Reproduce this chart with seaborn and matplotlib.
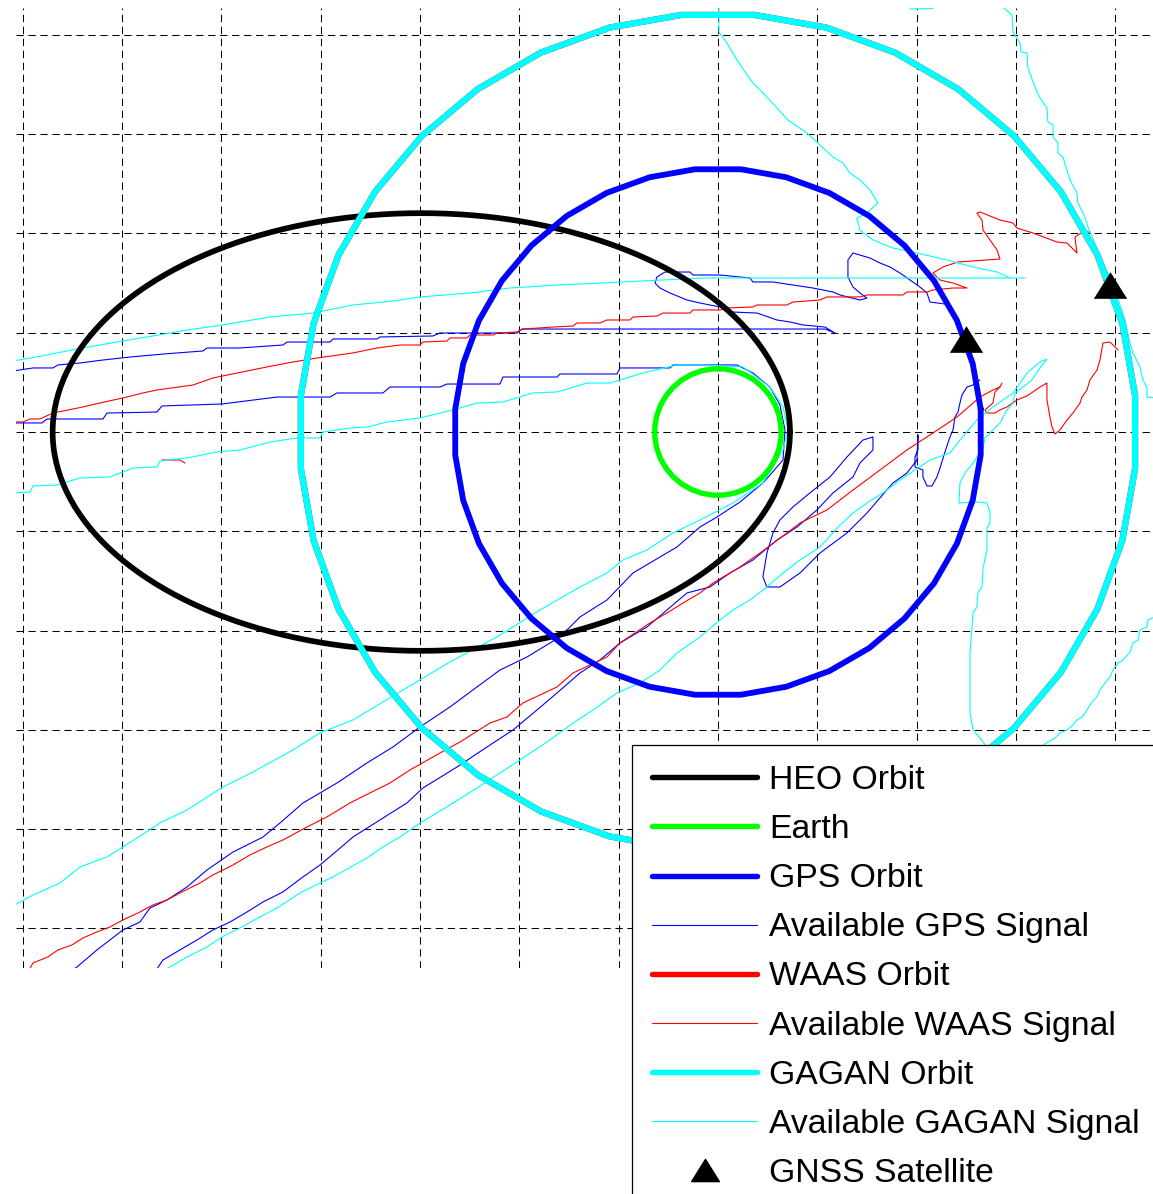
import numpy as np
import matplotlib
matplotlib.use("Agg")
import matplotlib.pyplot as plt
from matplotlib.lines import Line2D
import seaborn as sns

# All distances in units of 10^4 km, Earth-centred inertial frame
earth_radius = 0.6378
gps_radius = 2.6560
geo_radius = 4.2164          # WAAS and GAGAN satellites share the geostationary ring
heo_perigee = 0.725
heo_apogee = 6.70

gnss_sat_x = [2.497, 3.948]
gnss_sat_y = [0.937, 1.485]

# Arcs along which each GNSS signal is receivable by the HEO receiver
gps_signal_a = [
    (-7.100, 0.614), (-6.898, 0.645), (-6.697, 0.645), (-6.647, 0.675), (-6.425, 0.695),
    (-6.193, 0.725), (-5.921, 0.755), (-5.589, 0.785), (-5.186, 0.816), (-5.146, 0.846),
    (-4.814, 0.846), (-4.381, 0.876), (-4.340, 0.906), (-3.907, 0.906), (-3.877, 0.937),
    (-3.434, 0.937), (-3.404, 0.957), (-2.870, 0.967), (-2.800, 0.997), (-2.024, 0.997),
    (-1.974, 1.037), (1.078, 1.037), (1.178, 0.997), (1.078, 1.057), (0.856, 1.078),
    (0.725, 1.108), (0.594, 1.128), (0.393, 1.198), (0.151, 1.208), (0.020, 1.259),
    (-0.181, 1.299), (-0.312, 1.329), (-0.483, 1.400), (-0.584, 1.450), (-0.634, 1.500),
    (-0.614, 1.561), (-0.534, 1.611), (-0.282, 1.611), (-0.252, 1.581), (0.020, 1.581),
    (0.322, 1.551), (0.352, 1.511), (0.554, 1.511), (0.755, 1.480), (0.957, 1.450),
    (1.158, 1.410), (1.229, 1.380), (1.430, 1.329), (1.500, 1.349), (1.430, 1.400),
    (1.360, 1.460), (1.309, 1.561), (1.309, 1.732), (1.360, 1.803), (1.430, 1.782),
    (1.531, 1.752), (1.631, 1.702), (1.732, 1.662), (1.833, 1.601), (1.934, 1.531),
    (2.034, 1.460), (2.105, 1.400), (2.135, 1.309), (2.286, 1.289),
]
gps_signal_b = [
    (-7.100, 0.091), (-6.808, 0.091), (-6.757, 0.131), (-6.193, 0.131), (-6.153, 0.191),
    (-5.650, 0.201), (-5.599, 0.262), (-4.995, 0.282), (-4.441, 0.352), (-3.907, 0.352),
    (-3.837, 0.393), (-3.374, 0.393), (-3.303, 0.453), (-2.800, 0.453), (-2.729, 0.483),
    (-2.195, 0.483), (-2.165, 0.554), (-1.621, 0.554), (-1.591, 0.584), (-1.017, 0.584),
    (-0.987, 0.645), (-0.483, 0.645), (-0.453, 0.675), (0.191, 0.675), (0.352, 0.594),
    (0.524, 0.453), (0.624, 0.272), (0.675, 0.020), (0.655, -0.282), (0.453, -0.514),
    (0.222, -0.705), (-0.010, -0.856), (-0.181, -0.957), (-0.413, -1.158), (-0.584, -1.259),
    (-0.856, -1.420), (-1.118, -1.692), (-1.390, -1.863), (-1.591, -2.064), (-1.923, -2.266),
    (-2.195, -2.397), (-2.427, -2.568), (-2.699, -2.769), (-3.001, -2.971), (-3.273, -3.172),
    (-3.535, -3.333), (-3.837, -3.535), (-4.179, -3.736), (-4.411, -3.938), (-4.582, -4.079),
    (-4.884, -4.230), (-5.146, -4.411), (-5.347, -4.582), (-5.549, -4.713), (-5.720, -4.794),
    (-5.821, -4.935), (-5.992, -5.015), (-6.254, -5.216), (-6.455, -5.388), (-6.526, -5.438),
]
gps_signal_c = [
    (-5.670, -5.438), (-5.589, -5.317), (-5.418, -5.216), (-5.247, -5.116), (-5.086, -5.015),
    (-4.914, -4.935), (-4.743, -4.834), (-4.582, -4.733), (-4.381, -4.632), (-4.179, -4.481),
    (-4.008, -4.361), (-3.827, -4.209), (-3.676, -4.079), (-3.404, -3.907), (-3.132, -3.736),
    (-2.971, -3.585), (-2.628, -3.374), (-2.326, -3.172), (-2.064, -3.001), (-1.823, -2.800),
    (-1.621, -2.628), (-1.390, -2.427), (-1.188, -2.296), (-0.987, -2.125), (-0.715, -1.964),
    (-0.514, -1.793), (-0.312, -1.621), (-0.081, -1.561), (0.121, -1.420), (0.352, -1.289),
    (0.594, -1.088), (0.796, -0.957), (0.997, -0.785), (1.158, -0.614), (1.360, -0.453),
    (1.430, -0.312), (1.561, -0.181), (1.561, -0.050), (1.460, -0.081), (1.299, -0.252),
    (1.128, -0.453), (0.926, -0.614), (0.755, -0.755), (0.624, -0.886), (0.554, -1.017),
    (0.493, -1.219), (0.453, -1.460), (0.493, -1.561), (0.624, -1.561), (0.826, -1.420),
    (1.027, -1.219), (1.299, -1.017), (1.500, -0.816), (1.762, -0.514), (1.903, -0.413),
    (2.004, -0.282), (2.014, -0.030), (2.014, -0.181), (1.984, -0.252), (1.984, -0.352),
    (2.064, -0.383), (2.064, -0.453), (2.105, -0.544), (2.155, -0.544), (2.205, -0.453),
    (2.236, -0.363), (2.286, -0.201), (2.336, -0.050), (2.367, 0.020), (2.387, 0.151),
    (2.417, 0.201), (2.437, 0.292), (2.457, 0.373), (2.508, 0.453), (2.568, 0.473),
    (2.638, 0.524),
]

waas_signal_a = [
    (-7.100, 0.101), (-6.999, 0.101), (-6.928, 0.131), (-6.828, 0.131), (-6.697, 0.191),
    (-6.395, 0.252), (-6.224, 0.292), (-5.952, 0.352), (-5.791, 0.393), (-5.650, 0.423),
    (-5.287, 0.473), (-5.086, 0.544), (-4.743, 0.614), (-4.542, 0.655), (-4.280, 0.705),
    (-4.038, 0.745), (-3.676, 0.796), (-3.434, 0.846), (-3.202, 0.876), (-3.001, 0.876),
    (-2.971, 0.906), (-2.729, 0.916), (-2.699, 0.947), (-2.528, 0.947), (-2.497, 0.977),
    (-2.266, 0.977), (-2.226, 0.997), (-2.024, 1.007), (-1.964, 1.037), (-1.662, 1.057),
    (-1.460, 1.067), (-1.420, 1.098), (-1.188, 1.098), (-1.118, 1.128), (-0.886, 1.128),
    (-0.856, 1.158), (-0.614, 1.168), (-0.554, 1.198), (-0.282, 1.198), (-0.252, 1.229),
    (0.020, 1.229), (0.091, 1.249), (0.352, 1.259), (0.393, 1.279), (0.695, 1.279),
    (0.755, 1.309), (1.027, 1.329), (1.098, 1.360), (1.430, 1.360), (1.500, 1.380),
    (1.863, 1.380), (1.903, 1.410), (2.105, 1.410), (2.165, 1.430), (2.367, 1.450),
    (2.508, 1.450), (2.367, 1.500), (2.236, 1.531), (2.165, 1.601), (2.266, 1.662),
    (2.417, 1.712), (2.840, 1.742), (2.810, 1.833), (2.669, 2.034), (2.659, 2.135),
    (2.608, 2.205), (2.638, 2.216), (2.840, 2.135), (2.971, 2.105), (3.011, 2.054),
    (3.172, 2.004), (3.414, 1.913), (3.515, 1.903), (3.615, 1.803), (3.595, 1.964),
    (3.676, 2.014), (3.746, 2.014),
]
waas_signal_b = [
    (-6.949, -5.438), (-6.898, -5.347), (-6.747, -5.287), (-6.647, -5.216), (-6.506, -5.166),
    (-6.395, -5.096), (-6.254, -5.035), (-6.123, -4.985), (-5.992, -4.914), (-5.821, -4.834),
    (-5.690, -4.763), (-5.549, -4.713), (-5.398, -4.632), (-5.216, -4.542), (-5.086, -4.461),
    (-4.884, -4.361), (-4.713, -4.260), (-4.542, -4.179), (-4.381, -4.109), (-4.139, -3.978),
    (-3.938, -3.877), (-3.706, -3.736), (-3.505, -3.635), (-3.303, -3.535), (-3.102, -3.404),
    (-2.800, -3.233), (-2.598, -3.122), (-2.296, -2.931), (-2.125, -2.870), (-1.964, -2.729),
    (-1.621, -2.568), (-1.460, -2.427), (-1.118, -2.266), (-0.987, -2.125), (-0.685, -1.923),
    (-0.514, -1.823), (-0.352, -1.722), (-0.181, -1.621), (-0.050, -1.521), (0.222, -1.360),
    (0.423, -1.219), (0.695, -1.017), (0.826, -0.916), (1.098, -0.785), (1.360, -0.584),
    (1.631, -0.383), (1.903, -0.181), (2.165, -0.010), (2.407, 0.151), (2.638, 0.352),
    (2.769, 0.423), (2.840, 0.453), (2.860, 0.493),
]
waas_signal_c = [
    (4.028, 0.826), (3.948, 0.906), (3.877, 0.896), (3.847, 0.725), (3.817, 0.624),
    (3.746, 0.524), (3.716, 0.423), (3.666, 0.352), (3.646, 0.292), (3.575, 0.191),
    (3.515, 0.121), (3.444, 0.020), (3.394, -0.020), (3.364, 0.050), (3.343, 0.151),
    (3.313, 0.322), (3.313, 0.493), (3.243, 0.453), (3.172, 0.403), (3.112, 0.363),
    (3.011, 0.322), (2.910, 0.252), (2.840, 0.222), (2.790, 0.191), (2.709, 0.191),
    (2.689, 0.222), (2.769, 0.292), (2.790, 0.403), (2.840, 0.453),
]
waas_signal_d = [(-5.599, -0.282), (-5.418, -0.282), (-5.368, -0.312)]

gagan_signal_a = [
    (-7.100, 0.715), (-6.810, 0.765), (-6.455, 0.836), (-6.052, 0.906), (-5.750, 0.957),
    (-5.347, 1.027), (-4.985, 1.078), (-4.512, 1.158), (-4.079, 1.198), (-3.676, 1.279),
    (-3.273, 1.319), (-3.001, 1.360), (-2.497, 1.400), (-2.095, 1.450), (-1.621, 1.480),
    (-0.957, 1.511), (-0.151, 1.551), (3.092, 1.551),
]
gagan_signal_b = [
    (0.010, 4.270), (0.010, 4.028), (0.091, 3.917), (0.191, 3.746), (0.352, 3.515),
    (0.493, 3.374), (0.594, 3.263), (0.705, 3.142), (0.896, 3.011), (1.027, 2.890),
    (1.158, 2.769), (1.259, 2.709), (1.329, 2.608), (1.430, 2.538), (1.531, 2.437),
    (1.611, 2.306), (1.500, 2.205), (1.400, 2.155), (1.430, 2.034), (1.561, 1.934),
    (1.762, 1.853), (2.004, 1.803), (2.306, 1.732), (2.568, 1.662), (2.810, 1.611),
    (2.941, 1.551),
]
gagan_signal_c = [
    (2.880, 4.270), (2.961, 4.199), (2.971, 4.028), (3.041, 3.917), (3.051, 3.827),
    (3.112, 3.817), (3.122, 3.666), (3.192, 3.474), (3.243, 3.364), (3.313, 3.263),
    (3.323, 3.122), (3.374, 3.092), (3.374, 2.971), (3.424, 2.910), (3.424, 2.810),
    (3.474, 2.769), (3.545, 2.538), (3.615, 2.407), (3.625, 2.306), (3.696, 2.165),
    (3.726, 2.064), (3.847, 1.782), (3.998, 1.430), (4.099, 1.128), (4.149, 0.896),
    (4.179, 0.796), (4.250, 0.655), (4.280, 0.524), (4.320, 0.453), (4.320, 0.352),
    (4.401, 0.342),
]
gagan_signal_d = [
    (4.401, -1.863), (4.330, -1.893), (4.320, -1.964), (4.250, -1.994), (4.230, -2.095),
    (4.179, -2.125), (4.149, -2.216), (4.079, -2.296), (4.028, -2.326), (3.978, -2.397),
    (3.948, -2.467), (3.897, -2.528), (3.847, -2.598), (3.817, -2.669), (3.766, -2.719),
    (3.716, -2.800), (3.666, -2.870), (3.615, -2.900), (3.575, -2.951), (3.515, -3.001),
    (3.444, -3.031), (3.394, -3.082), (3.323, -3.122), (3.243, -3.182),
]
gagan_signal_e = [
    (-5.569, -5.418), (-5.519, -5.388), (-5.347, -5.287), (-5.146, -5.186), (-4.995, -5.086),
    (-4.814, -4.995), (-4.612, -4.884), (-4.441, -4.794), (-4.209, -4.643), (-4.008, -4.542),
    (-3.877, -4.481), (-3.535, -4.290), (-3.374, -4.179), (-3.202, -4.079), (-3.001, -3.938),
    (-2.699, -3.756), (-2.427, -3.585), (-2.195, -3.434), (-1.994, -3.303), (-1.692, -3.102),
    (-1.460, -2.931), (-1.259, -2.800), (-1.017, -2.628), (-0.785, -2.528), (-0.584, -2.397),
    (-0.413, -2.226), (-0.181, -2.064), (0.020, -1.893), (0.151, -1.793), (0.322, -1.692),
    (0.493, -1.561), (0.655, -1.420), (0.826, -1.289), (1.027, -1.158), (1.229, -0.937),
    (1.360, -0.816), (1.500, -0.715), (1.662, -0.614), (1.833, -0.483), (2.135, -0.282),
    (2.336, -0.211), (2.437, -0.081), (2.608, 0.121), (2.769, 0.252), (2.971, 0.393),
    (3.112, 0.594), (3.243, 0.705), (3.313, 0.735),
    (3.243, 0.645), (3.162, 0.524), (3.072, 0.453), (2.991, 0.393), (2.971, 0.292),
    (2.910, 0.222), (2.840, 0.091), (2.769, 0.020), (2.689, -0.060), (2.669, -0.161),
    (2.608, -0.252), (2.558, -0.332), (2.508, -0.383), (2.467, -0.453), (2.437, -0.514),
    (2.427, -0.715), (2.608, -0.705), (2.709, -0.715), (2.739, -0.806), (2.739, -0.916),
    (2.709, -0.967), (2.709, -1.188), (2.669, -1.370), (2.659, -1.561), (2.618, -1.621),
    (2.608, -1.762), (2.568, -1.823), (2.558, -1.964), (2.538, -2.226), (2.538, -2.830),
    (2.568, -3.001), (2.638, -3.082), (2.699, -3.162),
]
gagan_signal_f = [
    (-7.100, -0.614), (-6.928, -0.604), (-6.898, -0.544), (-6.657, -0.534), (-6.425, -0.463),
    (-6.123, -0.453), (-5.891, -0.363), (-5.650, -0.352), (-5.619, -0.292), (-5.347, -0.262),
    (-5.045, -0.201), (-4.814, -0.181), (-4.512, -0.101), (-4.240, -0.060), (-4.008, -0.060),
    (-3.978, 0.000), (-3.706, 0.040), (-3.535, 0.050), (-3.333, 0.101), (-3.001, 0.141),
    (-2.669, 0.222), (-2.427, 0.292), (-2.165, 0.302), (-1.863, 0.393), (-1.621, 0.403),
    (-1.319, 0.493), (-1.088, 0.493), (-0.755, 0.594), (-0.413, 0.675), (-0.151, 0.675),
    (0.252, 0.655), (0.524, 0.453), (0.655, 0.252), (0.705, 0.020), (0.655, -0.181),
    (0.453, -0.514), (0.151, -0.715), (-0.181, -0.886), (-0.453, -1.017), (-0.715, -1.188),
    (-0.957, -1.289), (-1.118, -1.420), (-1.390, -1.561), (-1.793, -1.793), (-2.226, -2.064),
    (-2.699, -2.316), (-3.001, -2.497), (-3.374, -2.719), (-3.676, -2.900), (-4.008, -3.031),
    (-4.280, -3.202), (-4.683, -3.424), (-4.985, -3.575), (-5.347, -3.807), (-5.619, -3.938),
    (-5.851, -4.089), (-6.153, -4.280), (-6.425, -4.381), (-6.626, -4.542), (-6.898, -4.663),
    (-7.100, -4.773),
]
gagan_signal_g = [(1.934, 4.260), (2.165, 4.265)]

gps_signals = [gps_signal_a, gps_signal_b, gps_signal_c]
waas_signals = [waas_signal_a, waas_signal_b, waas_signal_c, waas_signal_d]
gagan_signals = [gagan_signal_a, gagan_signal_b, gagan_signal_c, gagan_signal_d,
                 gagan_signal_e, gagan_signal_f, gagan_signal_g]

legend_labels = ["HEO Orbit", "Earth", "GPS Orbit", "Available GPS Signal",
                 "WAAS Orbit", "Available WAAS Signal", "GAGAN Orbit",
                 "Available GAGAN Signal", "GNSS Satellite"]

C_HEO, C_EARTH, C_GPS, C_WAAS, C_GAGAN = "black", "#00ff00", "#0000ff", "#ff0000", "#00ffff"
THICK, THIN = 3.9, 0.8

sns.set_theme(style="white")
plt.rcParams["font.family"] = ["Liberation Sans", "DejaVu Sans"]
plt.rcParams["text.color"] = "black"

W, H = 1153, 1194
fig = plt.figure(figsize=(W / 100, H / 100), dpi=100)
ax = fig.add_axes([16 / W, 1 - 968 / H, (W - 16) / W, (968 - 8) / H])


def ring(radius, n=36, phase_deg=5.0):
    t = np.deg2rad(phase_deg + np.arange(n + 1) * 360.0 / n)
    return radius * np.cos(t), radius * np.sin(t)


def trace(points, color, lw, z):
    xy = np.asarray(points)
    sns.lineplot(x=xy[:, 0], y=xy[:, 1], sort=False, estimator=None, color=color,
                 linewidth=lw, ax=ax, zorder=z)


# receivable-signal arcs underneath the orbits
for seg in gps_signals:
    trace(seg, C_GPS, THIN, 2)
for seg in waas_signals:
    trace(seg, C_WAAS, THIN, 2)
for seg in gagan_signals:
    trace(seg, C_GAGAN, THIN, 2)

# HEO orbit with the Earth at one focus
a = 0.5 * (heo_perigee + heo_apogee)
e = (heo_apogee - heo_perigee) / (heo_apogee + heo_perigee)
b = a * np.sqrt(1 - e ** 2)
E = np.linspace(0, 2 * np.pi, 361)
trace(np.column_stack([a * (np.cos(E) - e), b * np.sin(E)]), C_HEO, THICK + 0.2, 3)

trace(np.column_stack(ring(earth_radius)), C_EARTH, THICK, 3)
trace(np.column_stack(ring(gps_radius)), C_GPS, THICK + 0.3, 3)
trace(np.column_stack(ring(geo_radius)), C_WAAS, THICK + 0.6, 3)
trace(np.column_stack(ring(geo_radius)), C_GAGAN, THICK + 0.6, 3)

tri = [(-1, -0.8), (1, -0.8), (0, 0.8), (-1, -0.8)]
sns.scatterplot(x=gnss_sat_x, y=gnss_sat_y, marker=tri, s=24 ** 2, color="black",
                edgecolor="black", linewidth=0, ax=ax, zorder=4)

ax.set_xlim(-7.069, 4.381)
ax.set_ylim(-5.398, 4.270)
ax.set_xticks(np.arange(-7, 5))
ax.set_yticks(np.arange(-5, 5))
ax.tick_params(length=0, labelbottom=False, labelleft=False)
ax.set_xlabel("")
ax.set_ylabel("")
ax.set_axisbelow(True)
ax.grid(True, color="black", linestyle=(0, (7, 4.5)), linewidth=0.75)
for sp in ax.spines.values():
    sp.set_visible(False)

handles = [
    Line2D([], [], color=C_HEO, lw=THICK),
    Line2D([], [], color=C_EARTH, lw=THICK),
    Line2D([], [], color=C_GPS, lw=THICK),
    Line2D([], [], color=C_GPS, lw=THIN),
    Line2D([], [], color=C_WAAS, lw=THICK),
    Line2D([], [], color=C_WAAS, lw=THIN),
    Line2D([], [], color=C_GAGAN, lw=THICK),
    Line2D([], [], color=C_GAGAN, lw=THIN),
    Line2D([], [], color="black", lw=0, marker=tri, markersize=20),
]
leg = ax.legend(handles, legend_labels, loc="upper left",
                bbox_to_anchor=(632 / W, 1 - 745 / H), bbox_transform=fig.transFigure,
                borderaxespad=0, fontsize=24.3, frameon=True, fancybox=False,
                framealpha=1, edgecolor="black", handlelength=3.1, handletextpad=0.36,
                borderpad=0.6, labelspacing=0.535)
leg.get_frame().set_linewidth(0.9)
for t in leg.get_texts():
    t.set_color("black")
leg.set_zorder(10)

fig.savefig("out.png", dpi=100, facecolor="white")
